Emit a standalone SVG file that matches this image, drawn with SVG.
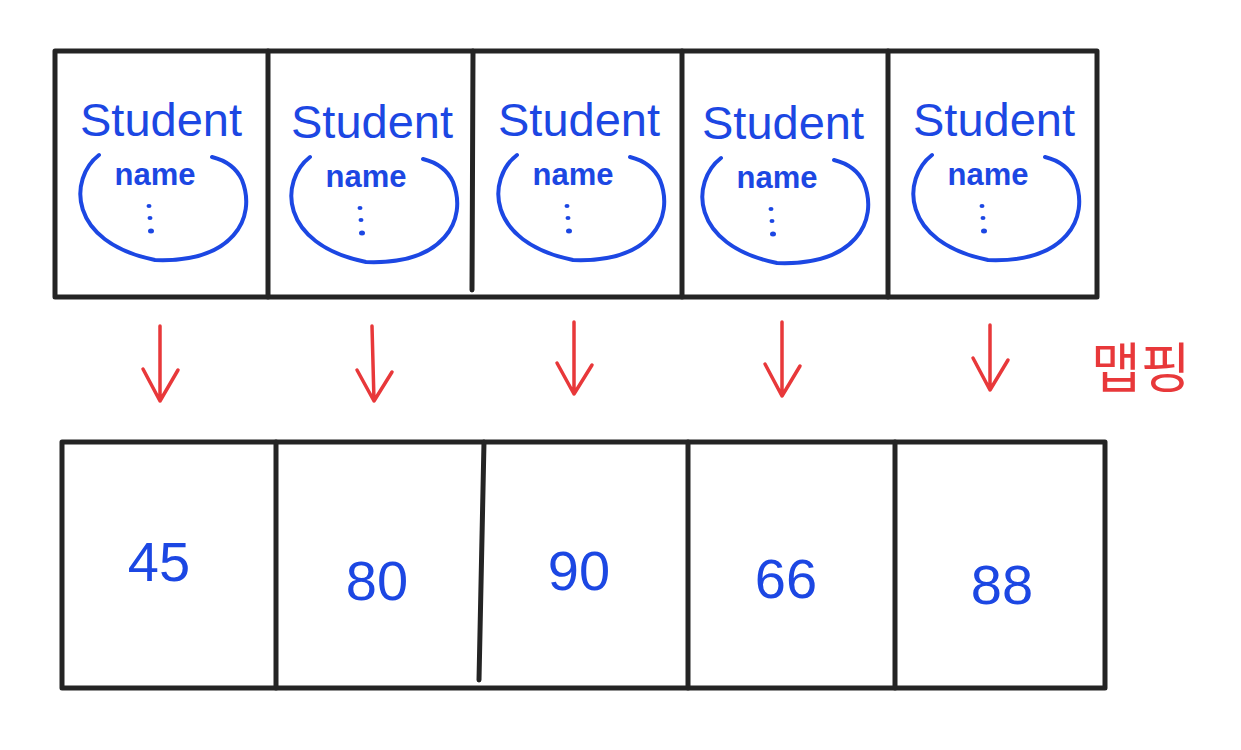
<svg xmlns="http://www.w3.org/2000/svg" width="1241" height="750" viewBox="0 0 1241 750">
<style>
.box{fill:none;stroke:#242424;stroke-width:5;stroke-linecap:round;stroke-linejoin:round}
.div{stroke:#242424;stroke-width:5;stroke-linecap:round}
.blue{font-family:"Liberation Sans","DejaVu Sans",sans-serif;fill:#1c47e3;text-anchor:middle}
.stu{font-size:47px}
.nm{font-size:31px;font-weight:bold}
.num{font-size:56px}
.ring{fill:none;stroke:#1c47e3;stroke-width:4;stroke-linecap:round}
.dot{fill:#1c47e3}
.arr{fill:none;stroke:#e8383a;stroke-width:3.5;stroke-linecap:round;stroke-linejoin:round}
.map{font-family:"Noto Sans CJK KR",sans-serif;font-size:54px;fill:#e8383a}
</style>
<rect width="1241" height="750" fill="#ffffff"/>
<defs>
<g id="studentContent">
<text class="blue stu" x="0" y="136">Student</text>
<text class="blue nm" x="-6" y="185">name</text>
<path class="ring" d="M -62,155 C -92,178 -94,242 -6,260 C 72,263 96,218 81,180 C 75,167 63,160 51,157"/>
<ellipse class="dot" cx="-12" cy="206" rx="2.5" ry="2"/>
<ellipse class="dot" cx="-11" cy="218" rx="2.5" ry="2"/>
<ellipse class="dot" cx="-10" cy="231" rx="3" ry="2.5"/>
</g>
</defs>
<g id="top-array">
<path class="box" d="M 55,51 L 1097,51 L 1097,297 L 55,297 Z"/>
<line class="div" x1="268" y1="51" x2="268" y2="297"/>
<line class="div" x1="473" y1="51" x2="472" y2="290"/>
<line class="div" x1="682" y1="51" x2="682" y2="297"/>
<line class="div" x1="888" y1="51" x2="888" y2="297"/>
</g>
<g id="student-1"><use href="#studentContent" transform="translate(161,0)"/></g>
<g id="student-2"><use href="#studentContent" transform="translate(372,2)"/></g>
<g id="student-3"><use href="#studentContent" transform="translate(579,0)"/></g>
<g id="student-4"><use href="#studentContent" transform="translate(783,3)"/></g>
<g id="student-5"><use href="#studentContent" transform="translate(994,0)"/></g>
<g id="connectors">
<path class="arr" d="M 160,326 L 160,401 M 143,369 L 160,401 L 178,370"/>
<path class="arr" d="M 372,326 L 374,401 M 357,370 L 374,401 L 392,372"/>
<path class="arr" d="M 574,322 L 574,394 M 557,363 L 574,394 L 592,365"/>
<path class="arr" d="M 782,322 L 782,396 M 765,364 L 782,396 L 800,366"/>
<path class="arr" d="M 990,325 L 990,390 M 973,358 L 990,390 L 1008,360"/>
</g>
<g id="mapping-label"><text class="map" x="1091" y="388">맵핑</text></g>
<g id="bottom-array">
<path class="box" d="M 62,442 L 1105,442 L 1105,688 L 62,688 Z"/>
<line class="div" x1="276" y1="442" x2="276" y2="688"/>
<line class="div" x1="484" y1="442" x2="479" y2="680"/>
<line class="div" x1="688" y1="442" x2="688" y2="688"/>
<line class="div" x1="895" y1="442" x2="895" y2="688"/>
</g>
<g id="value-1"><text class="blue num" x="159" y="581">45</text></g>
<g id="value-2"><text class="blue num" x="377" y="600">80</text></g>
<g id="value-3"><text class="blue num" x="579" y="590">90</text></g>
<g id="value-4"><text class="blue num" x="786" y="598">66</text></g>
<g id="value-5"><text class="blue num" x="1002" y="604">88</text></g>
</svg>
